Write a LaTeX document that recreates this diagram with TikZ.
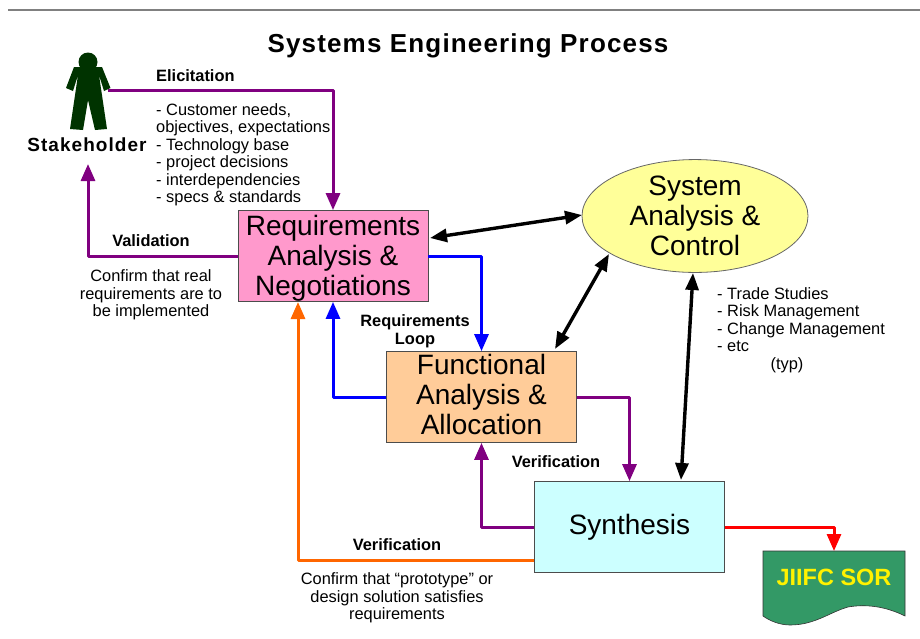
\documentclass[tikz,border=0pt]{standalone}
\usepackage{fontspec}
\setmainfont{Liberation Sans}
\usetikzlibrary{arrows.meta,calc,shapes.geometric}

\definecolor{linkpurple}{HTML}{800080}
\definecolor{linkorange}{HTML}{FF6600}
\definecolor{reqpink}{HTML}{FF99CC}
\definecolor{funcpeach}{HTML}{FFCC99}
\definecolor{synthcyan}{HTML}{CCFFFF}
\definecolor{ctrlyellow}{HTML}{FFFF99}
\definecolor{sorgreen}{HTML}{339966}
\definecolor{figgreen}{HTML}{003300}

\tikzset{
  procbox/.style={draw=black!70, line width=.8pt, minimum width=190pt, minimum height=91pt,
    inner sep=0pt, align=center, font=\fontsize{28}{30}\selectfont},
  headnote/.style={font=\bfseries\fontsize{16.4}{17.5}\selectfont, inner sep=0pt, align=center},
  note/.style={font=\fontsize{16.4}{17.5}\selectfont, inner sep=0pt},
  link/.style={line width=3pt, line join=round, -{Triangle[length=17pt,width=14pt]}},
  both/.style={line width=3.4pt, black, {Triangle[length=17pt,width=13pt]}-{Triangle[length=17pt,width=13pt]}}
}

\begin{document}
\begin{tikzpicture}[x=1pt,y=-1pt]
\useasboundingbox (0,0) rectangle (920,638);

\draw[black!50, line width=1.5pt] (8,10)--(920,10);

\node[font=\bfseries\fontsize{26}{30}\selectfont\addfontfeature{LetterSpace=4.5}, inner sep=0pt] (title) at (468,46) {Systems Engineering Process};

% the stakeholder figure
\fill[figgreen] (88,62) circle (9.5);
\fill[figgreen] (74,67)--(102,67)--(110.5,88)--(104,91)--(99,75)--(107,129)--(95,130)--(88,100)
  --(83,130)--(70,129)--(78,75)--(73,91)--(66,88)--cycle;
\coordinate (hand) at (108,90);
\node[font=\bfseries\fontsize{19}{20}\selectfont\addfontfeature{LetterSpace=5.5}, inner sep=0pt] (stake) at (87,145) {Stakeholder};
\coordinate (stakebase) at (88,164);

% boxes
\node[procbox, fill=reqpink] (req) at (333,256) {\rule{0pt}{24pt}Requirements\\Analysis \&\\Negotiations};
\node[procbox, fill=funcpeach] (func) at (481.5,397) {Functional\\Analysis \&\\\rule[-5pt]{0pt}{5pt}Allocation};
\node[procbox, fill=synthcyan] (synth) at (629.5,527) {Synthesis};
\node[ellipse, draw=black!60, line width=.8pt, fill=ctrlyellow, minimum width=226pt, minimum height=111pt,
  inner sep=0pt, align=center, font=\fontsize{28}{30}\selectfont] (ctrl) at (695,216) {System\\Analysis \&\\Control};

% output document
\draw[black!80, fill=sorgreen, line width=.6pt] (763,551)--(905,551)--(905,616)
  .. controls (885,606) and (865,604) .. (848,607) .. controls (830,612) and (815,625) .. (790,625)
  .. controls (780,625) and (770,621) .. (763,616) --cycle;
\node[font=\bfseries\fontsize{23.5}{28}\selectfont, text=yellow, inner sep=0pt] (sor) at (834,577) {JIIFC SOR};
\coordinate (sortop) at (834,551);

% loops
\draw[link, linkpurple] (hand)--(req.north |- hand)--(req.north);
\draw[link, linkpurple] (req.west)--(stakebase |- req.west)--(stakebase);
\draw[link, blue] (req.east)--(func.north |- req.east)--(func.north);
\draw[link, blue] (func.west)--(req.south |- func.west)--(req.south);
\draw[link, linkpurple] (func.east)--(synth.north |- func.east)--(synth.north);
\draw[link, linkpurple] (synth.west)--(func.south |- synth.west)--(func.south);
\coordinate (synthlow) at (534,560);
\coordinate (reqlow) at (298,302);
\draw[link, linkorange] (synthlow)--(reqlow |- synthlow)--(reqlow);
\draw[link, red] (synth.east)--(sortop |- synth.east)--(sortop);

% control links
\coordinate (reqside) at (430,238);
\coordinate (ctrlside) at (582,215);
\coordinate (functop) at (555,349);
\coordinate (ctrlleft) at (609,254);
\coordinate (synthtop) at (681,480);
\coordinate (ctrlbase) at (693,273);
\draw[both] (reqside)--(ctrlside);
\draw[both] (functop)--(ctrlleft);
\draw[both] (synthtop)--(ctrlbase);

% labels
\node[headnote, anchor=west] (elicit) at (156,76) {Elicitation};
\node[note, anchor=north west, align=left] (needs) at (156,103)
  {- Customer needs,\\objectives, expectations\\- Technology base\\- project decisions\\- interdependencies\\- specs \& standards};
\node[headnote] (valid) at (151,241) {Validation};
\node[note, align=center] (confirm) at (151,295) {Confirm that real\\requirements are to\\be implemented};
\node[headnote] (loop) at (415,331.5) {Requirements\\Loop};
\node[note, anchor=north west, align=left] (trade) at (717,287)
  {- Trade Studies\\- Risk Management\\- Change Management\\- etc};
\node[note] (typ) at (787,365) {(typ)};
\node[headnote] (verif) at (556,462) {Verification};
\node[headnote] (verifb) at (397,545) {Verification};
\node[note, align=center] (proto) at (397,598) {Confirm that “prototype” or\\design solution satisfies\\requirements};
\end{tikzpicture}
\end{document}
